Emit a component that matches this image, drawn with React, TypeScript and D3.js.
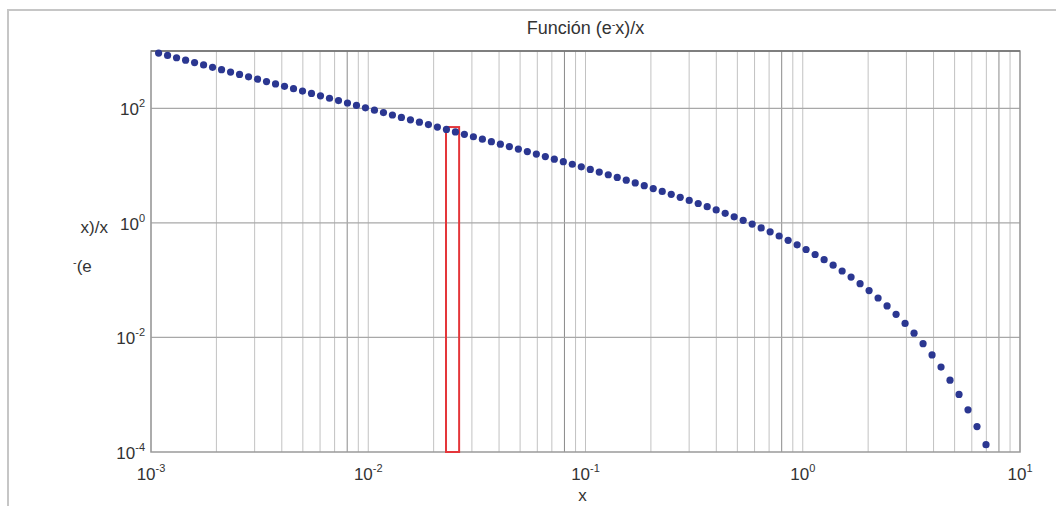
import { useRef, useEffect } from 'react';
import * as d3 from 'd3';

// sample points (x, (e^-x)/x)
const xValues = [
  0.001084, 0.001192, 0.001311, 0.001443, 0.001587, 0.001746, 0.00192, 0.002112, 0.002324, 0.002556,
  0.002812, 0.003093, 0.003402, 0.003743, 0.004117, 0.004529, 0.004982, 0.00548, 0.006028, 0.006631,
  0.007294, 0.008023, 0.008826, 0.009708, 0.01068, 0.01175, 0.01292, 0.01421, 0.01564, 0.0172,
  0.01892, 0.02081, 0.0229, 0.02519, 0.0277, 0.03048, 0.03352, 0.03688, 0.04056, 0.04462,
  0.04908, 0.05399, 0.05939, 0.06533, 0.07186, 0.07905, 0.08695, 0.09565, 0.1052, 0.1157,
  0.1273, 0.14, 0.154, 0.1694, 0.1864, 0.205, 0.2255, 0.2481, 0.2729, 0.3002,
  0.3302, 0.3632, 0.3995, 0.4395, 0.4834, 0.5318, 0.585, 0.6435, 0.7078, 0.7786,
  0.8565, 0.9421, 1.036, 1.14, 1.254, 1.38, 1.518, 1.669, 1.836, 2.02,
  2.222, 2.444, 2.689, 2.958, 3.253, 3.579, 3.937, 4.33, 4.763, 5.24,
  5.764, 6.34, 6.974,
];
const yValues = [
  921.5, 837.9, 761.8, 692.0, 629.1, 571.7, 519.8, 472.5, 429.3, 390.2,
  354.6, 322.3, 292.9, 266.2, 241.9, 219.8, 199.7, 181.5, 164.9, 149.8,
  136.1, 123.6, 112.3, 102.0, 92.64, 84.11, 76.41, 69.38, 62.95, 57.15,
  51.86, 47.06, 42.68, 38.71, 35.11, 31.82, 28.85, 26.13, 23.67, 21.43,
  19.4, 17.55, 15.87, 14.34, 12.95, 11.69, 10.54, 9.501, 8.557, 7.699,
  6.916, 6.21, 5.567, 4.983, 4.453, 3.974, 3.54, 3.145, 2.789, 2.467,
  2.177, 1.915, 1.679, 1.466, 1.276, 1.105, 0.9523, 0.8166, 0.6962, 0.5896,
  0.4958, 0.4138, 0.3425, 0.2805, 0.2275, 0.1823, 0.1444, 0.1129, 0.08685, 0.06567,
  0.04877, 0.03552, 0.02526, 0.01755, 0.01188, 0.007793, 0.004956, 0.003041, 0.001794, 0.001012,
  0.0005448, 0.0002782, 0.0001341,
];

const xTickExps = [-3, -2, -1, 0, 1];
const yTickExps = [-4, -2, 0, 2];
const yGridExps = [-2, 0, 2];

// highlighted bin
const boxX = [0.0228, 0.0262];
const boxY = [1e-4, 47];

const titleText = ['Función (e', '-', 'x)/x'];

export default function App() {
  const svgRef = useRef<SVGSVGElement>(null);
  const width = 1056;
  const height = 506;

  useEffect(() => {
    if (!svgRef.current) return;
    const svg = d3.select(svgRef.current);
    svg.selectAll('*').remove();

    const left = 151, right = 1020, top = 51, bottom = 452;
    const font = 'Liberation Sans, Arial, sans-serif';
    const fs = 17;
    const sup = 11;
    const ink = '#333';

    const x = d3.scaleLog().domain([1e-3, 10]).range([left, right]);
    const y = d3.scaleLog().domain([1e-4, 1e3]).range([bottom, top]);

    svg.append('rect').attr('width', width).attr('height', height).attr('fill', '#fff');

    // outer figure frame
    svg.append('rect')
      .attr('x', 8).attr('y', 10)
      .attr('width', 1200).attr('height', 700)
      .attr('fill', 'none')
      .attr('stroke', '#c6c6c6')
      .attr('stroke-width', 2);

    // vertical grid
    const minor: number[] = [];
    for (let e = -3; e < 1; e++) {
      for (let m = 1; m <= 9; m++) minor.push(m * Math.pow(10, e));
    }
    minor.push(10);
    svg.append('g').selectAll('line')
      .data(minor)
      .enter()
      .append('line')
      .attr('x1', d => x(d)).attr('x2', d => x(d))
      .attr('y1', top).attr('y2', bottom)
      .attr('stroke', d => {
        const m = Math.round(d / Math.pow(10, Math.floor(Math.log10(d) + 1e-9)));
        return m === 8 ? '#8a8a8a' : '#c2c2c2';
      })
      .attr('stroke-width', 1);

    // horizontal grid
    svg.append('g').selectAll('line')
      .data(yGridExps)
      .enter()
      .append('line')
      .attr('x1', left).attr('x2', right)
      .attr('y1', d => y(Math.pow(10, d))).attr('y2', d => y(Math.pow(10, d)))
      .attr('stroke', '#a8a8a8')
      .attr('stroke-width', 1.3);

    // axes box
    svg.append('rect')
      .attr('x', left).attr('y', top)
      .attr('width', right - left).attr('height', bottom - top)
      .attr('fill', 'none')
      .attr('stroke', '#9a9a9a')
      .attr('stroke-width', 1.5);
    svg.append('line')
      .attr('x1', left).attr('x2', right).attr('y1', top).attr('y2', top)
      .attr('stroke', '#6e6e6e').attr('stroke-width', 1.5);

    // red box
    svg.append('rect')
      .attr('x', x(boxX[0])).attr('y', y(boxY[1]))
      .attr('width', x(boxX[1]) - x(boxX[0]))
      .attr('height', y(boxY[0]) - y(boxY[1]))
      .attr('fill', 'none')
      .attr('stroke', '#e4363a')
      .attr('stroke-width', 2);

    // dots
    svg.append('g').selectAll('circle')
      .data(xValues.map((v, i) => [v, yValues[i]]))
      .enter()
      .append('circle')
      .attr('cx', d => x(d[0]))
      .attr('cy', d => y(d[1]))
      .attr('r', 3.6)
      .attr('fill', '#2b3791');

    // x tick labels
    const xt = svg.append('g').attr('font-family', font).attr('fill', ink);
    xTickExps.forEach(e => {
      const t = xt.append('text')
        .attr('x', x(Math.pow(10, e)))
        .attr('y', 480)
        .attr('text-anchor', 'middle')
        .attr('font-size', fs);
      t.append('tspan').text('10');
      t.append('tspan').attr('dy', -8).attr('font-size', sup).text(String(e));
    });

    // y tick labels
    const yt = svg.append('g').attr('font-family', font).attr('fill', ink);
    yTickExps.forEach(e => {
      const t = yt.append('text')
        .attr('x', 145)
        .attr('y', y(Math.pow(10, e)) + 7)
        .attr('text-anchor', 'end')
        .attr('font-size', fs);
      t.append('tspan').text('10');
      t.append('tspan').attr('dy', -8).attr('font-size', sup).text(String(e));
    });

    // broken y label
    svg.append('text')
      .attr('x', 108).attr('y', 233)
      .attr('text-anchor', 'end')
      .attr('font-family', font).attr('font-size', fs).attr('fill', ink)
      .text('x)/x');
    const yl = svg.append('text')
      .attr('x', 73).attr('y', 272)
      .attr('font-family', font).attr('font-size', fs).attr('fill', ink);
    yl.append('tspan').attr('font-size', sup).attr('dy', -6).text('-');
    yl.append('tspan').attr('dy', 6).text('(e');

    // title
    const tt = svg.append('text')
      .attr('x', (left + right) / 2).attr('y', 34)
      .attr('text-anchor', 'middle')
      .attr('font-family', font).attr('font-size', 18).attr('fill', ink);
    tt.append('tspan').text(titleText[0]);
    tt.append('tspan').attr('dy', -6).attr('font-size', sup).text(titleText[1]);
    tt.append('tspan').attr('dy', 6).text(titleText[2]);

    // x label
    svg.append('text')
      .attr('x', (left + right) / 2 - 3).attr('y', 501)
      .attr('text-anchor', 'middle')
      .attr('font-family', font).attr('font-size', fs).attr('fill', ink)
      .text('x');
  }, []);

  return (
    <svg
      ref={svgRef}
      width={width}
      height={height}
      style={{ position: 'absolute', left: 0, top: 0 }}
    />
  );
}
